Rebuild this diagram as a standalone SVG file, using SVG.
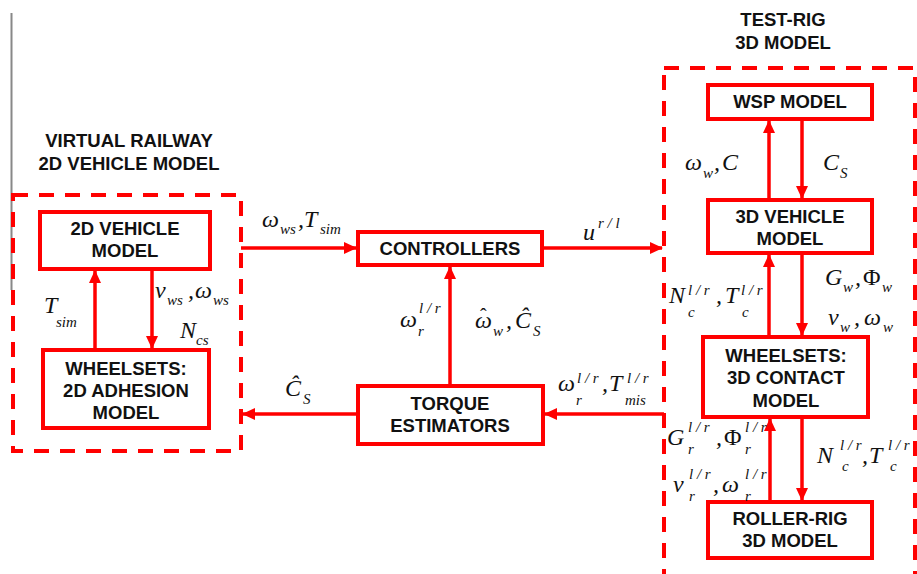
<svg xmlns="http://www.w3.org/2000/svg" width="917" height="574" viewBox="0 0 917 574">
<defs>
<style>
.box{fill:#fff;stroke:#f00;stroke-width:4}
.dash{fill:none;stroke:#f00;stroke-width:4;stroke-dasharray:15 11}
.ln{fill:none;stroke:#f00;stroke-width:3.5;marker-end:url(#ah)}
.t{font-family:"Liberation Sans",Arial,sans-serif;font-weight:bold;font-size:18.5px;fill:#111;text-anchor:middle}
.m{font-family:"Liberation Serif","Times New Roman",serif;font-style:italic;font-size:24px;fill:#111}
.s{font-family:"Liberation Serif","Times New Roman",serif;font-style:italic;font-size:15px;fill:#111}
.u{font-style:normal}
</style>
<marker id="ah" markerUnits="userSpaceOnUse" markerWidth="13" markerHeight="12" refX="12" refY="6" orient="auto">
<path d="M0,0 L13,6 L0,12 z" fill="#f00"/>
</marker>
</defs>
<rect width="917" height="574" fill="#fff"/>
<line x1="11.5" y1="13" x2="11.5" y2="290" stroke="#888" stroke-width="2"/>

<g id="group-virtual">
<rect class="dash" x="13" y="195" width="228" height="256"/>
<text class="t" x="129" y="147">VIRTUAL RAILWAY</text>
<text class="t" x="129" y="170">2D VEHICLE MODEL</text>
</g>
<g id="group-testrig">
<rect class="dash" x="664" y="68" width="251" height="540"/>
<text class="t" x="783" y="26">TEST-RIG</text>
<text class="t" x="783" y="49">3D MODEL</text>
</g>

<g id="node-2dvehicle">
<rect class="box" x="40" y="212" width="170" height="57"/>
<text class="t" x="125" y="235">2D VEHICLE</text>
<text class="t" x="125" y="257">MODEL</text>
</g>
<g id="node-2dwheelsets">
<rect class="box" x="43" y="350" width="166" height="78"/>
<text class="t" x="126" y="375">WHEELSETS:</text>
<text class="t" x="126" y="397">2D ADHESION</text>
<text class="t" x="126" y="419">MODEL</text>
</g>
<g id="node-controllers">
<rect class="box" x="358" y="232" width="184" height="33"/>
<text class="t" x="450" y="255">CONTROLLERS</text>
</g>
<g id="node-torque">
<rect class="box" x="358" y="386" width="185" height="58"/>
<text class="t" x="450" y="410">TORQUE</text>
<text class="t" x="450" y="432">ESTIMATORS</text>
</g>
<g id="node-wsp">
<rect class="box" x="708" y="85" width="164" height="34"/>
<text class="t" x="790" y="108">WSP MODEL</text>
</g>
<g id="node-3dvehicle">
<rect class="box" x="708" y="200" width="164" height="53"/>
<text class="t" x="790" y="223">3D VEHICLE</text>
<text class="t" x="790" y="245">MODEL</text>
</g>
<g id="node-3dwheelsets">
<rect class="box" x="703" y="337" width="165" height="80"/>
<text class="t" x="786" y="362">WHEELSETS:</text>
<text class="t" x="786" y="384">3D CONTACT</text>
<text class="t" x="786" y="407">MODEL</text>
</g>
<g id="node-rollerrig">
<rect class="box" x="708" y="502" width="164" height="56"/>
<text class="t" x="790" y="525">ROLLER-RIG</text>
<text class="t" x="790" y="547">3D MODEL</text>
</g>

<g id="connectors">
<line class="ln" x1="95" y1="350" x2="95" y2="271"/>
<line class="ln" x1="152" y1="269" x2="152" y2="348"/>
<line class="ln" x1="241" y1="248" x2="356" y2="248"/>
<line class="ln" x1="542" y1="248" x2="662" y2="248"/>
<line class="ln" x1="450" y1="386" x2="450" y2="267"/>
<line class="ln" x1="358" y1="414" x2="243" y2="414"/>
<line class="ln" x1="664" y1="414" x2="545" y2="414"/>
<line class="ln" x1="769" y1="200" x2="769" y2="121"/>
<line class="ln" x1="802" y1="119" x2="802" y2="198"/>
<line class="ln" x1="769" y1="337" x2="769" y2="255"/>
<line class="ln" x1="802" y1="253" x2="802" y2="335"/>
<line class="ln" x1="770" y1="502" x2="770" y2="419"/>
<line class="ln" x1="802" y1="417" x2="802" y2="500"/>
</g>

<g id="labels">
<text class="m" x="44" y="313">T</text><text class="s" x="56" y="327">sim</text>
<text class="m" x="155" y="298">v</text><text class="s" x="167" y="305">ws</text><text class="m" x="188" y="298">,</text><text class="m" x="195" y="298">ω</text><text class="s" x="213" y="305">ws</text>
<text class="m" x="180" y="338">N</text><text class="s" x="196" y="345">cs</text>

<text class="m" x="262" y="227">ω</text><text class="s" x="280" y="234">ws</text><text class="m" x="298" y="227">,</text><text class="m" x="304" y="227">T</text><text class="s" x="320" y="234">sim</text>
<text class="m" x="583" y="240">u</text><text class="s" x="598" y="228">r / l</text>

<text class="m" x="400" y="327">ω</text><text class="s" x="419" y="313">l / r</text><text class="s" x="418" y="336">r</text>
<text class="m" x="475" y="328">ω<tspan class="u" x="480" y="323" style="font-size:20px">ˆ</tspan></text><text class="s" x="493" y="336">w</text><text class="m" x="506" y="328">,</text><text class="m" x="515" y="328">Ĉ</text><text class="s" x="533" y="336">S</text>
<text class="m" x="285" y="396">Ĉ</text><text class="s" x="303" y="404">S</text>
<text class="m" x="558" y="391">ω</text><text class="s" x="577" y="383">l / r</text><text class="s" x="576" y="405">r</text><text class="m" x="602" y="391">,</text><text class="m" x="609" y="391">T</text><text class="s" x="627" y="383">l / r</text><text class="s" x="625" y="405">mis</text>

<text class="m" x="685" y="170">ω</text><text class="s" x="703" y="178">w</text><text class="m" x="714" y="170">,</text><text class="m" x="722" y="170">C</text>
<text class="m" x="823" y="170">C</text><text class="s" x="840" y="178">S</text>
<text class="m" x="825" y="285">G</text><text class="s" x="843" y="292">w</text><text class="m" x="855" y="285">,</text><text class="m u" x="863" y="285">Φ</text><text class="s" x="882" y="292">w</text>
<text class="m" x="669" y="303">N</text><text class="s" x="688" y="295">l / r</text><text class="s" x="688" y="317">c</text><text class="m" x="716" y="303">,</text><text class="m" x="725" y="303">T</text><text class="s" x="741" y="295">l / r</text><text class="s" x="742" y="317">c</text>
<text class="m" x="828" y="325">v</text><text class="s" x="840" y="332">w</text><text class="m" x="854" y="325">,</text><text class="m" x="864" y="325">ω</text><text class="s" x="883" y="332">w</text>
<text class="m" x="667" y="445">G</text><text class="s" x="688" y="432">l / r</text><text class="s" x="688" y="454">r</text><text class="m" x="716" y="445">,</text><text class="m u" x="724" y="445">Φ</text><text class="s" x="745" y="432">l / r</text><text class="s" x="745" y="454">r</text>
<text class="m" x="673" y="492">v</text><text class="s" x="689" y="479">l / r</text><text class="s" x="689" y="501">r</text><text class="m" x="713" y="492">,</text><text class="m" x="722" y="492">ω</text><text class="s" x="745" y="479">l / r</text><text class="s" x="745" y="501">r</text>
<text class="m" x="817" y="463">N</text><text class="s" x="840" y="450">l / r</text><text class="s" x="842" y="471">c</text><text class="m" x="862" y="463">,</text><text class="m" x="869" y="463">T</text><text class="s" x="888" y="450">l / r</text><text class="s" x="890" y="471">c</text>
</g>
</svg>
